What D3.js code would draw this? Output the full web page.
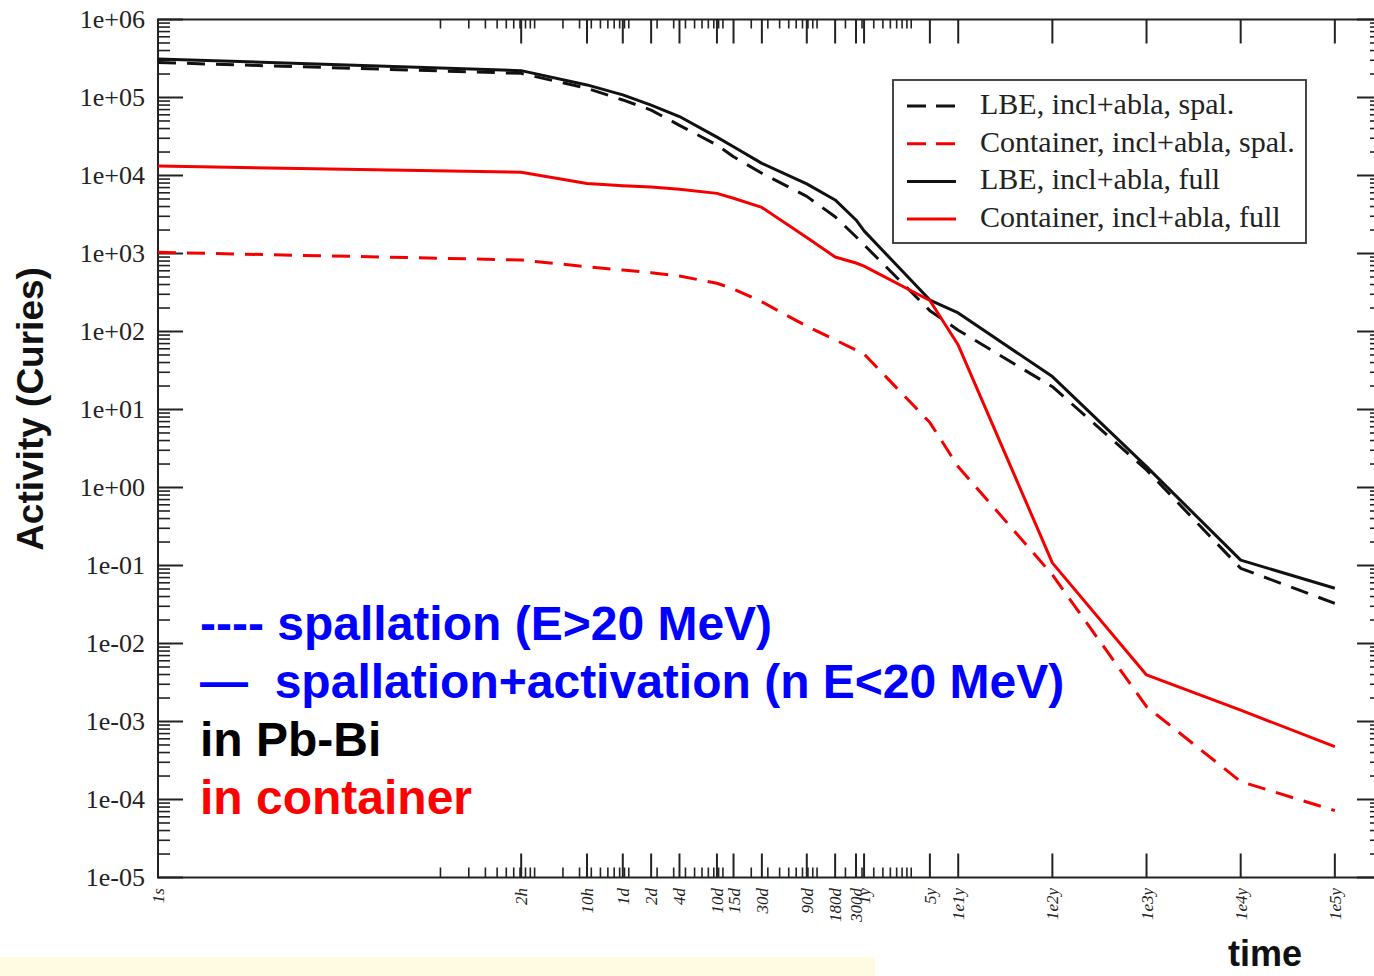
<!DOCTYPE html>
<html>
<head>
<meta charset="utf-8">
<script src="https://cdnjs.cloudflare.com/ajax/libs/d3/7.8.5/d3.min.js"></script>
<style>
  html, body { margin: 0; padding: 0; background: #fff; }
  svg { display: block; }
</style>
</head>
<body>
<script>
// Decay time points (seconds after shutdown) and their axis labels
const timeLabels = ["1s","2h","10h","1d","2d","4d","10d","15d","30d","90d","180d","300d","1y","5y","1e1y","1e2y","1e3y","1e4y","1e5y"];
const timeSeconds = [1, 7200, 36000, 86400, 172800, 345600, 864000, 1296000, 2592000, 7776000,
  15552000, 25920000, 31557600, 157788000, 315576000, 3155760000, 31557600000, 315576000000, 3155760000000];

// Activity in Curies at each time point
const lbeSpal = [2.81e5, 2.04e5, 1.31e5, 9.3e4, 6.9e4, 4.4e4, 2.46e4, 1.74e4, 1.07e4, 5.4e3, 2.96e3, 1.64e3, 1.29e3, 185, 104, 19.6, 1.68, 0.092, 0.0327];
const containerSpal = [1035, 826, 676, 614, 568, 515, 415, 351, 240, 117, 78, 58, 51.6, 6.8, 1.85, 0.076, 1.55e-3, 1.7e-4, 7.2e-5];
const lbeFull = [3.12e5, 2.21e5, 1.45e5, 1.08e5, 8.0e4, 5.7e4, 3.1e4, 2.34e4, 1.43e4, 7.8e3, 4.86e3, 2.69e3, 1.95e3, 253, 173, 26.4, 1.85, 0.117, 0.051];
const containerFull = [1.32e4, 1.1e4, 7.9e3, 7.4e3, 7.1e3, 6.65e3, 5.9e3, 5.1e3, 3.9e3, 1.6e3, 902, 755, 690, 250, 67, 0.108, 3.95e-3, 1.4e-3, 4.75e-4];

const seriesNames = ["LBE, incl+abla, spal.", "Container, incl+abla, spal.", "LBE, incl+abla, full", "Container, incl+abla, full"];
const yTickLabels = ["1e-05","1e-04","1e-03","1e-02","1e-01","1e+00","1e+01","1e+02","1e+03","1e+04","1e+05","1e+06"];

const W = 1374, H = 976;
const svg = d3.select("body").append("svg").attr("width", W).attr("height", H);

const pLeft = 158, pRight = 1382, pTop = 19.5, pBottom = 877.5;
const x = d3.scaleLog().domain([1, 1e13]).range([pLeft, pRight]);
const y = d3.scaleLog().domain([1e-5, 1e6]).range([pBottom, pTop]);

// pale strip along the lower edge
svg.append("rect").attr("x", 0).attr("y", 957).attr("width", 875).attr("height", 19).attr("fill", "#fffbe2");

const serif = "'Liberation Serif', 'Times New Roman', serif";
const sans = "'Liberation Sans', Arial, sans-serif";

// ---- frame
const frame = svg.append("g").attr("stroke", "#222").attr("stroke-width", 2).attr("fill", "none");
frame.append("path").attr("d", `M${pLeft},${pTop}H${pRight}V${pBottom}H${pLeft}Z`);

// ---- y ticks (major at decades, minor at 2..9) on left and right sides
const yMajor = d3.range(-5, 7).map(e => Math.pow(10, e));
const yMinor = [];
for (let e = -5; e < 6; e++) for (let m = 2; m <= 9; m++) yMinor.push(m * Math.pow(10, e));
const ty = svg.append("g").attr("stroke", "#222").attr("stroke-width", 2);
yMajor.forEach(v => {
  ty.append("line").attr("x1", pLeft).attr("x2", pLeft + 25).attr("y1", y(v)).attr("y2", y(v));
  ty.append("line").attr("x1", pRight).attr("x2", pRight - 25).attr("y1", y(v)).attr("y2", y(v));
});
yMinor.forEach(v => {
  ty.append("line").attr("x1", pLeft).attr("x2", pLeft + 12).attr("y1", y(v)).attr("y2", y(v)).attr("stroke-width", 1.6);
  ty.append("line").attr("x1", pRight).attr("x2", pRight - 12).attr("y1", y(v)).attr("y2", y(v)).attr("stroke-width", 1.6);
});
svg.append("g").selectAll("text").data(yMajor).join("text")
  .attr("x", 145).attr("y", v => y(v) + 8)
  .attr("text-anchor", "end").attr("font-family", serif).attr("font-size", 26).attr("fill", "#222")
  .text((v, i) => yTickLabels[i]);

// ---- x ticks: major at labelled times, minor log ticks between 1e3 s and 1e8 s
const xMinor = [];
for (let e = 3; e < 8; e++) for (let m = 1; m <= 9; m++) xMinor.push(m * Math.pow(10, e));
xMinor.push(1e8);
const tx = svg.append("g").attr("stroke", "#222");
xMinor.forEach(t => {
  tx.append("line").attr("x1", x(t)).attr("x2", x(t)).attr("y1", pBottom).attr("y2", pBottom - 10).attr("stroke-width", 1.6);
  tx.append("line").attr("x1", x(t)).attr("x2", x(t)).attr("y1", pTop).attr("y2", pTop + 9).attr("stroke-width", 1.6);
});
timeSeconds.forEach(t => {
  tx.append("line").attr("x1", x(t)).attr("x2", x(t)).attr("y1", pBottom).attr("y2", pBottom - 24).attr("stroke-width", 2);
  tx.append("line").attr("x1", x(t)).attr("x2", x(t)).attr("y1", pTop).attr("y2", pTop + 24).attr("stroke-width", 2);
});
svg.append("g").selectAll("text").data(timeSeconds).join("text")
  .attr("transform", t => `translate(${x(t) + 6},${888}) rotate(-90)`)
  .attr("text-anchor", "end").attr("font-family", serif).attr("font-style", "italic")
  .attr("font-size", 17).attr("fill", "#222")
  .text((t, i) => timeLabels[i]);

// ---- curves
const line = d3.line().x((d, i) => x(timeSeconds[i])).y(d => y(d));
const styles = [
  { data: lbeSpal, color: "#111", dash: "18,11" },
  { data: containerSpal, color: "#f50000", dash: "18,11" },
  { data: lbeFull, color: "#111", dash: null },
  { data: containerFull, color: "#f50000", dash: null }
];
const plot = svg.append("g").attr("fill", "none").attr("stroke-width", 3).attr("stroke-linejoin", "round");
styles.forEach(s => {
  plot.append("path").datum(s.data).attr("d", line)
    .attr("stroke", s.color).attr("stroke-dasharray", s.dash);
});

// ---- legend
const lg = svg.append("g");
lg.append("rect").attr("x", 893).attr("y", 80).attr("width", 413).attr("height", 163)
  .attr("fill", "#fff").attr("stroke", "#333").attr("stroke-width", 1.8);
styles.forEach((s, i) => {
  const yy = 106 + i * 37.7;
  lg.append("line").attr("x1", 907).attr("x2", 956).attr("y1", yy).attr("y2", yy)
    .attr("stroke", s.color).attr("stroke-width", 3).attr("stroke-dasharray", s.dash ? "19,10" : null);
  lg.append("text").attr("x", 980).attr("y", yy + 8).attr("font-family", serif).attr("font-size", 30)
    .attr("fill", "#222").text(seriesNames[i]);
});

// ---- axis titles
svg.append("text").attr("transform", "translate(43,409) rotate(-90)").attr("text-anchor", "middle")
  .attr("font-family", sans).attr("font-weight", "bold").attr("font-size", 37).attr("fill", "#111")
  .text("Activity (Curies)");
svg.append("text").attr("x", 1228).attr("y", 966).attr("font-family", sans).attr("font-weight", "bold")
  .attr("font-size", 36).attr("fill", "#111").text("time");

// ---- annotations
const notes = [
  { text: "---- spallation (E>20 MeV)", y: 640, color: "#0000ff" },
  { text: "\u2014  spallation+activation (n E<20 MeV)", y: 698, color: "#0000ff" },
  { text: "in Pb-Bi", y: 756, color: "#000" },
  { text: "in container", y: 814, color: "#ff0000" }
];
svg.append("g").selectAll("text").data(notes).join("text")
  .attr("x", 200).attr("y", d => d.y).attr("font-family", sans).attr("font-weight", "bold")
  .attr("font-size", 48).attr("fill", d => d.color).attr("xml:space", "preserve")
  .style("white-space", "pre").text(d => d.text);
</script>
</body>
</html>
